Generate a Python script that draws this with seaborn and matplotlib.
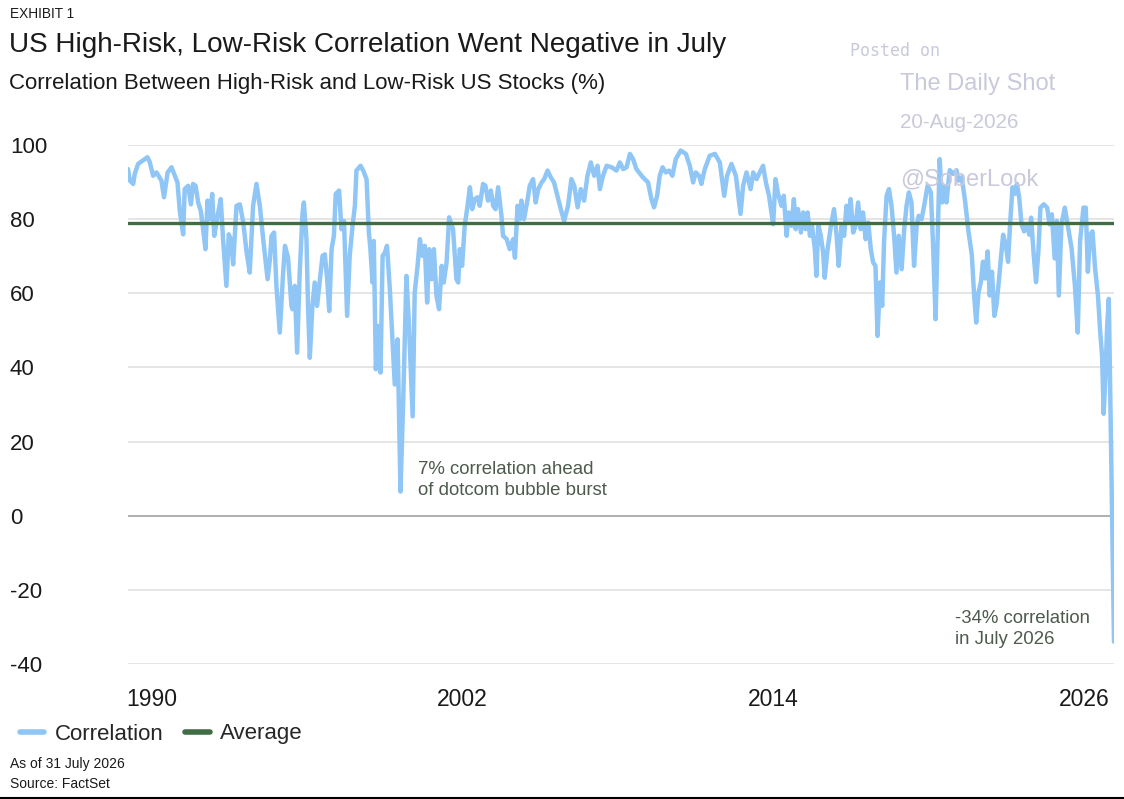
import numpy as np
import pandas as pd
import seaborn as sns
import matplotlib.pyplot as plt
from matplotlib.lines import Line2D

# data (fractional year, correlation %)
years = [
    1989.08, 1989.15, 1989.28, 1989.34, 1989.47, 1989.65, 1989.83, 1989.92, 1990.05, 1990.18,
    1990.37, 1990.47, 1990.61, 1990.76, 1990.89, 1990.99, 1991.08, 1991.21, 1991.27, 1991.40,
    1991.51, 1991.59, 1991.69, 1991.79, 1991.89, 1991.98, 1992.07, 1992.15, 1992.24, 1992.33,
    1992.41, 1992.54, 1992.66, 1992.75, 1992.88, 1992.97, 1993.05, 1993.14, 1993.27, 1993.40,
    1993.53, 1993.66, 1993.78, 1993.91, 1994.04, 1994.17, 1994.30, 1994.47, 1994.56, 1994.62,
    1994.72, 1994.81, 1994.94, 1995.07, 1995.14, 1995.26, 1995.39, 1995.43, 1995.52, 1995.61,
    1995.71, 1995.82, 1995.87, 1995.97, 1996.03, 1996.10, 1996.20, 1996.29, 1996.38, 1996.49,
    1996.59, 1996.68, 1996.77, 1996.85, 1996.94, 1997.03, 1997.10, 1997.23, 1997.32, 1997.42,
    1997.54, 1997.64, 1997.75, 1997.84, 1997.90, 1998.06, 1998.16, 1998.29, 1998.38, 1998.44,
    1998.52, 1998.57, 1998.65, 1998.74, 1998.83, 1998.91, 1999.00, 1999.08, 1999.19, 1999.29,
    1999.38, 1999.49, 1999.60, 1999.70, 1999.83, 1999.93, 2000.07, 2000.15, 2000.26, 2000.35,
    2000.45, 2000.54, 2000.63, 2000.71, 2000.80, 2000.89, 2000.99, 2001.09, 2001.19, 2001.27,
    2001.38, 2001.48, 2001.63, 2001.76, 2001.83, 2001.89, 2001.98, 2002.08, 2002.19, 2002.28,
    2002.37, 2002.47, 2002.58, 2002.66, 2002.79, 2002.88, 2002.98, 2003.09, 2003.18, 2003.27,
    2003.37, 2003.50, 2003.56, 2003.70, 2003.82, 2003.95, 2004.02, 2004.12, 2004.21, 2004.27,
    2004.37, 2004.51, 2004.59, 2004.72, 2004.82, 2004.92, 2005.05, 2005.15, 2005.28, 2005.41,
    2005.53, 2005.66, 2005.79, 2005.92, 2006.07, 2006.20, 2006.31, 2006.44, 2006.56, 2006.69,
    2006.82, 2006.95, 2007.08, 2007.21, 2007.30, 2007.42, 2007.56, 2007.75, 2007.94, 2008.07,
    2008.20, 2008.33, 2008.46, 2008.58, 2008.71, 2008.91, 2009.03, 2009.16, 2009.29, 2009.39,
    2009.51, 2009.61, 2009.72, 2009.85, 2009.97, 2010.10, 2010.23, 2010.42, 2010.62, 2010.77,
    2010.90, 2011.00, 2011.13, 2011.22, 2011.35, 2011.54, 2011.74, 2011.93, 2012.10, 2012.21,
    2012.38, 2012.55, 2012.73, 2012.83, 2012.96, 2013.12, 2013.22, 2013.35, 2013.47, 2013.60,
    2013.71, 2013.83, 2013.99, 2014.08, 2014.18, 2014.31, 2014.40, 2014.51, 2014.59, 2014.70,
    2014.79, 2014.86, 2014.95, 2015.06, 2015.15, 2015.24, 2015.32, 2015.41, 2015.49, 2015.60,
    2015.66, 2015.73, 2015.83, 2015.92, 2015.98, 2016.09, 2016.22, 2016.34, 2016.44, 2016.52,
    2016.63, 2016.73, 2016.82, 2016.91, 2016.98, 2017.08, 2017.17, 2017.27, 2017.37, 2017.46,
    2017.56, 2017.66, 2017.76, 2017.85, 2017.94, 2018.02, 2018.11, 2018.20, 2018.27, 2018.37,
    2018.46, 2018.56, 2018.66, 2018.75, 2018.84, 2018.95, 2019.05, 2019.14, 2019.23, 2019.33,
    2019.43, 2019.53, 2019.61, 2019.72, 2019.82, 2019.95, 2020.08, 2020.17, 2020.26, 2020.34,
    2020.42, 2020.51, 2020.59, 2020.68, 2020.77, 2020.81, 2020.94, 2021.07, 2021.14, 2021.27,
    2021.40, 2021.53, 2021.66, 2021.75, 2021.83, 2021.92, 2022.01, 2022.09, 2022.18, 2022.27,
    2022.35, 2022.44, 2022.53, 2022.61, 2022.70, 2022.77, 2022.87, 2022.97, 2023.06, 2023.13,
    2023.23, 2023.32, 2023.40, 2023.49, 2023.58, 2023.68, 2023.79, 2023.88, 2023.95, 2024.05,
    2024.14, 2024.23, 2024.31, 2024.44, 2024.57, 2024.66, 2024.75, 2024.86, 2024.94, 2025.02,
    2025.12, 2025.25, 2025.38, 2025.51, 2025.64, 2025.75, 2025.84, 2025.97, 2026.06, 2026.14,
    2026.23, 2026.32, 2026.42, 2026.53, 2026.62, 2026.69, 2026.75, 2026.82, 2026.88, 2026.95,
    2027.15,
]
corr = [
    93.5, 90.4, 89.5, 92.2, 94.9, 95.8, 96.7, 95.4, 91.7, 92.6,
    90.4, 85.9, 92.6, 94.0, 91.7, 89.9, 82.2, 75.9, 88.1, 89.0,
    84.0, 89.5, 89.0, 84.5, 82.2, 77.3, 71.9, 85.0, 80.0, 86.8,
    75.5, 80.9, 85.4, 74.6, 62.0, 75.9, 74.6, 67.8, 83.6, 84.0,
    79.1, 71.0, 65.6, 83.6, 89.5, 83.6, 74.6, 63.8, 69.2, 75.5,
    76.4, 62.0, 49.4, 65.6, 72.8, 69.6, 56.6, 55.7, 62.0, 44.0,
    65.6, 81.8, 84.5, 74.6, 56.6, 42.6, 56.6, 62.9, 56.6, 63.8,
    70.1, 70.5, 63.8, 55.2, 71.9, 75.5, 86.8, 87.7, 77.3, 79.5,
    53.9, 70.1, 78.2, 83.6, 93.1, 94.4, 93.1, 90.8, 76.4, 71.9,
    62.9, 74.1, 39.5, 51.2, 38.6, 70.1, 71.0, 72.8, 61.1, 47.6,
    35.4, 47.6, 6.5, 29.5, 64.7, 51.2, 26.8, 60.2, 67.4, 74.6,
    70.1, 72.8, 57.5, 71.9, 63.8, 71.9, 59.3, 55.7, 67.4, 62.9,
    68.3, 80.5, 77.3, 63.8, 62.9, 71.9, 67.4, 78.2, 83.6, 88.6,
    82.7, 85.4, 85.9, 83.6, 89.5, 89.0, 85.0, 87.7, 83.6, 82.7,
    88.6, 80.9, 75.5, 74.6, 71.9, 74.6, 69.6, 83.6, 80.0, 85.0,
    80.0, 85.4, 89.0, 90.8, 84.5, 88.1, 89.9, 90.8, 93.1, 91.2,
    89.9, 86.3, 82.7, 79.5, 83.6, 90.8, 89.0, 83.2, 88.1, 85.0,
    91.7, 95.3, 91.7, 94.4, 88.1, 91.7, 94.4, 94.0, 93.1, 95.3,
    93.5, 94.0, 97.6, 96.2, 93.5, 91.7, 90.8, 89.9, 85.4, 83.2,
    86.3, 91.7, 94.0, 92.6, 93.1, 91.7, 96.2, 98.5, 97.6, 94.4,
    89.9, 92.6, 91.7, 89.5, 93.5, 97.1, 97.6, 95.3, 86.3, 91.7,
    94.9, 91.7, 81.4, 89.0, 92.6, 88.1, 92.6, 90.8, 92.6, 94.4,
    89.9, 86.3, 78.6, 90.8, 86.8, 83.6, 86.3, 75.5, 81.8, 78.2,
    85.4, 77.3, 82.7, 76.4, 81.8, 77.3, 81.8, 75.5, 78.2, 71.9,
    64.7, 78.6, 75.5, 71.0, 64.2, 71.9, 78.2, 82.7, 75.5, 67.4,
    78.2, 75.5, 83.6, 79.1, 85.4, 76.4, 78.2, 84.5, 77.3, 81.8,
    74.6, 79.1, 71.9, 68.3, 67.4, 48.5, 62.9, 56.6, 73.7, 86.3,
    88.1, 83.6, 75.5, 65.6, 75.5, 66.5, 77.3, 83.6, 87.2, 84.5,
    67.4, 78.2, 80.9, 80.0, 83.6, 89.0, 87.2, 71.9, 53.0, 74.6,
    96.2, 84.5, 89.0, 84.5, 90.8, 93.2, 92.2, 93.2, 90.4, 91.3,
    84.9, 76.7, 70.4, 59.4, 52.1, 60.3, 63.0, 68.5, 64.0, 71.3,
    59.4, 65.8, 53.9, 56.7, 63.0, 68.5, 75.8, 73.1, 68.5, 77.7,
    88.6, 86.8, 89.5, 85.8, 78.6, 76.7, 78.6, 75.8, 80.4, 70.4,
    63.0, 71.3, 83.1, 84.0, 83.1, 78.6, 81.3, 69.4, 79.5, 59.4,
    78.6, 83.1, 77.7, 72.2, 62.1, 49.4, 74.0, 83.1, 83.1, 65.8,
    75.8, 76.7, 66.7, 59.4, 49.4, 43.0, 27.5, 37.5, 50.3, 58.5,
    -34.0,
]
average = 79
x_ticks = [1990, 2002, 2014, 2026]
y_ticks = [100, 80, 60, 40, 20, 0, -20, -40]

df = pd.DataFrame({'year': years, 'corr': corr})

sns.set_theme(style='white')
plt.rcParams['font.family'] = ['Liberation Sans', 'DejaVu Sans']

W, H = 1124, 799
fig = plt.figure(figsize=(W / 100, H / 100), dpi=100)
ax = fig.add_axes([128 / W, 1 - 664 / H, (1114 - 128) / W, (664 - 145) / H])

blue = '#8fc6f6'
green = '#416d44'
txt = '#1a1a1a'
note = '#4d5a4d'
wm = '#c9c9dc'

# grid
for v in y_ticks:
    ax.axhline(v, color='#a9a9a9' if v == 0 else '#e3e3e3', lw=1.3, zorder=1)

# watermark (sits under the line)
fig.text(850 / W, 1 - 51 / H, 'Posted on', family='DejaVu Sans Mono', fontsize=12,
         color=wm, va='center', ha='left', zorder=0)
fig.text(900 / W, 1 - 84 / H, 'The Daily Shot', fontsize=17, color=wm, va='center', ha='left')
fig.text(900 / W, 1 - 123 / H, '20-Aug-2026', fontsize=14.8, color=wm, va='center', ha='left')
fig.text(900 / W, 1 - 179 / H, '@SoberLook', fontsize=17, color=wm, va='center', ha='left',
         zorder=0)

sns.lineplot(data=df, x='year', y='corr', ax=ax, color=blue, lw=3.2, zorder=3,
             solid_joinstyle='round', solid_capstyle='round')
ax.axhline(average, color=green, lw=2.4, zorder=4)
ax.patch.set_alpha(0)

ax.set_xlim(years[0], years[-1])
ax.set_ylim(-40, 100)
for s in ax.spines.values():
    s.set_visible(False)
ax.set_xlabel('')
ax.set_ylabel('')
ax.set_xticks(x_ticks)
ax.set_xticklabels([str(t) for t in x_ticks])
ax.set_yticks(y_ticks)
ax.set_yticklabels([str(t) for t in y_ticks], ha='left')
ax.tick_params(axis='y', length=0, pad=(128 - 10) * 0.72, labelsize=16, labelcolor=txt)
ax.tick_params(axis='x', length=0, pad=17, labelsize=16.5, labelcolor=txt)
ax.grid(False)

# annotations
ax.text(2000.27, 14.8, '7% correlation ahead\nof dotcom bubble burst', fontsize=13.4,
        color=note, ha='left', va='top', linespacing=1.35)
ax.text(2021.0, -25.3, '-34% correlation\nin July 2026', fontsize=13.4,
        color=note, ha='left', va='top', linespacing=1.35)

# titles
fig.text(10 / W, 1 - 14 / H, 'EXHIBIT 1', fontsize=9.8, color=txt, va='center', ha='left')
fig.text(9 / W, 1 - 45 / H, 'US High-Risk, Low-Risk Correlation Went Negative in July',
         fontsize=20.1, color=txt, va='center', ha='left')
fig.text(9 / W, 1 - 83 / H, 'Correlation Between High-Risk and Low-Risk US Stocks (%)',
         fontsize=16, color=txt, va='center', ha='left')

# legend
handles = [Line2D([], [], color=blue, lw=4, solid_capstyle='round'),
           Line2D([], [], color=green, lw=4, solid_capstyle='round')]
fig.legend(handles, ['Correlation', 'Average'], loc='center left',
           bbox_to_anchor=(0 / W, 1 - 734 / H), ncol=2, frameon=False,
           fontsize=16, handlelength=1.1, handletextpad=0.45, columnspacing=1.0)

fig.text(10 / W, 1 - 764 / H, 'As of 31 July 2026', fontsize=10, color=txt, va='center', ha='left')
fig.text(10 / W, 1 - 784 / H, 'Source: FactSet', fontsize=10, color=txt, va='center', ha='left')
fig.add_artist(Line2D([0, 1], [1 - 797.5 / H, 1 - 797.5 / H], color='black', lw=1.5,
                      transform=fig.transFigure))

fig.savefig('out.png', dpi=100, facecolor='white')
